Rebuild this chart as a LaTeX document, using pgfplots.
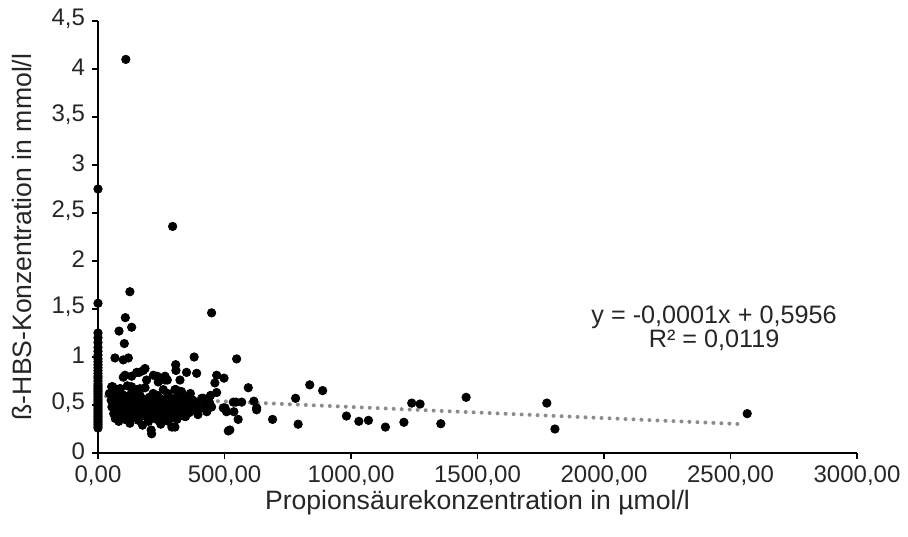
\documentclass[border=0pt]{standalone}
\usepackage{fontspec}
\setmainfont{Liberation Sans}
\usepackage{pgfplots}
\pgfplotsset{compat=1.18}
\usepackage{pgfplotstable}
\definecolor{trend}{RGB}{140,140,140}

% Propionsaeure (umol/l) vs. beta-HBS (mmol/l)
\pgfplotstableread{
x y
0 2.75
0 1.56
0 1.25
0 1.20
0 1.15
0 1.10
0 1.06
0 1.02
0 0.98
0 0.95
0 0.92
0 0.89
0 0.86
0 0.83
0 0.80
0 0.78
0 0.75
0 0.72
0 0.70
0 0.68
0 0.66
0 0.64
0 0.62
0 0.60
0 0.58
0 0.56
0 0.54
0 0.52
0 0.50
0 0.48
0 0.46
0 0.44
0 0.42
0 0.40
0 0.38
0 0.36
0 0.34
0 0.32
0 0.30
0 0.28
0 0.26
110 4.10
295 2.36
126 1.68
449 1.46
108 1.41
133 1.31
83 1.27
104 1.14
67 0.99
100 0.97
120 0.99
380 1.00
307 0.92
308 0.86
350 0.84
390 0.83
469 0.81
498 0.78
462 0.73
469 0.63
502 0.47
515 0.23
186 0.88
163 0.84
100 0.79
192 0.76
234 0.80
274 0.76
324 0.76
54 0.69
87 0.67
133 0.69
166 0.67
153 0.84
179 0.86
107 0.81
133 0.80
219 0.81
238 0.74
265 0.76
548 0.98
416 0.57
442 0.50
449 0.48
495 0.47
508 0.43
545 0.53
521 0.24
265 0.80
304 0.66
324 0.64
298 0.38
304 0.27
344 0.38
383 0.45
403 0.47
45 0.62
52 0.55
55 0.48
58 0.69
62 0.41
65 0.58
68 0.36
72 0.52
75 0.64
78 0.45
82 0.33
85 0.57
88 0.67
90 0.49
93 0.39
96 0.61
100 0.53
103 0.44
106 0.35
110 0.59
113 0.47
116 0.70
120 0.41
123 0.55
126 0.31
130 0.50
133 0.63
136 0.43
140 0.37
143 0.57
146 0.48
150 0.66
153 0.40
156 0.53
160 0.34
163 0.46
166 0.60
170 0.51
173 0.42
176 0.29
180 0.56
183 0.45
186 0.68
190 0.38
193 0.52
196 0.47
200 0.33
203 0.58
206 0.43
210 0.24
212 0.20
215 0.50
218 0.62
222 0.39
225 0.54
228 0.45
232 0.35
235 0.60
238 0.48
242 0.41
245 0.57
248 0.30
252 0.52
255 0.44
258 0.66
262 0.37
265 0.55
268 0.47
272 0.40
275 0.62
278 0.33
282 0.51
285 0.58
288 0.43
292 0.27
295 0.49
298 0.38
302 0.56
305 0.45
308 0.66
312 0.35
315 0.52
318 0.60
322 0.42
325 0.48
330 0.64
335 0.39
338 0.55
342 0.46
346 0.38
350 0.58
355 0.50
360 0.42
365 0.62
370 0.47
375 0.55
382 0.45
388 0.52
395 0.40
403 0.47
410 0.57
420 0.50
430 0.43
440 0.53
445 0.60
594 0.68
535 0.53
568 0.53
616 0.54
627 0.45
627 0.47
537 0.43
554 0.35
690 0.35
781 0.57
791 0.30
837 0.71
888 0.65
982 0.385
1031 0.33
1069 0.34
1136 0.27
1209 0.32
1240 0.52
1273 0.51
1355 0.305
1455 0.58
1774 0.52
1806 0.25
2566 0.41
}\hbsdata

\begin{document}
\begin{tikzpicture}
  \path[use as bounding box] (0,0) rectangle (454pt,268pt);
  \begin{axis}[
    at={(49pt,41.5pt)}, anchor=south west,
    scale only axis, width=379.5pt, height=216pt,
    xmin=0, xmax=3000, ymin=0, ymax=4.5,
    axis lines=left,
    axis line style={-, black, line width=0.8pt},
    tick style={black, line width=0.8pt},
    tick align=outside, major tick length=3pt,
    xtick={0,500,1000,1500,2000,2500,3000},
    xticklabels={{0,00},{500,00},{1000,00},{1500,00},{2000,00},{2500,00},{3000,00}},
    ytick={0,0.5,1,1.5,2,2.5,3,3.5,4,4.5},
    yticklabels={0,{0,5},1,{1,5},2,{2,5},3,{3,5},4,{4,5}},
    tick label style={font=\fontsize{12}{14}\selectfont, text=black!85},
    yticklabel style={yshift=1pt},
    xlabel={Propionsäurekonzentration in µmol/l},
    ylabel={ß-HBS-Konzentration in mmol/l},
    label style={font=\fontsize{13.3}{15}\selectfont, text=black!85},
    xlabel style={yshift=4.5pt},
    ylabel style={yshift=3pt},
    clip=false,
  ]
    \addplot[only marks, mark=*, mark size=2.1pt, mark options={fill=black, draw=black}]
      table[x=x, y=y] {\hbsdata};
    % linear trendline (Excel)
    \addplot[trend, line width=2pt, line cap=round, dash pattern=on 0pt off 4pt]
      coordinates {(0,0.5956) (2550,0.30)};
    \node[font=\fontsize{12.6}{12}\selectfont, text=black!85, align=center]
      at (axis cs:2435,1.30) {y = -0,0001x + 0,5956\\R² = 0,0119};
  \end{axis}
\end{tikzpicture}
\end{document}
